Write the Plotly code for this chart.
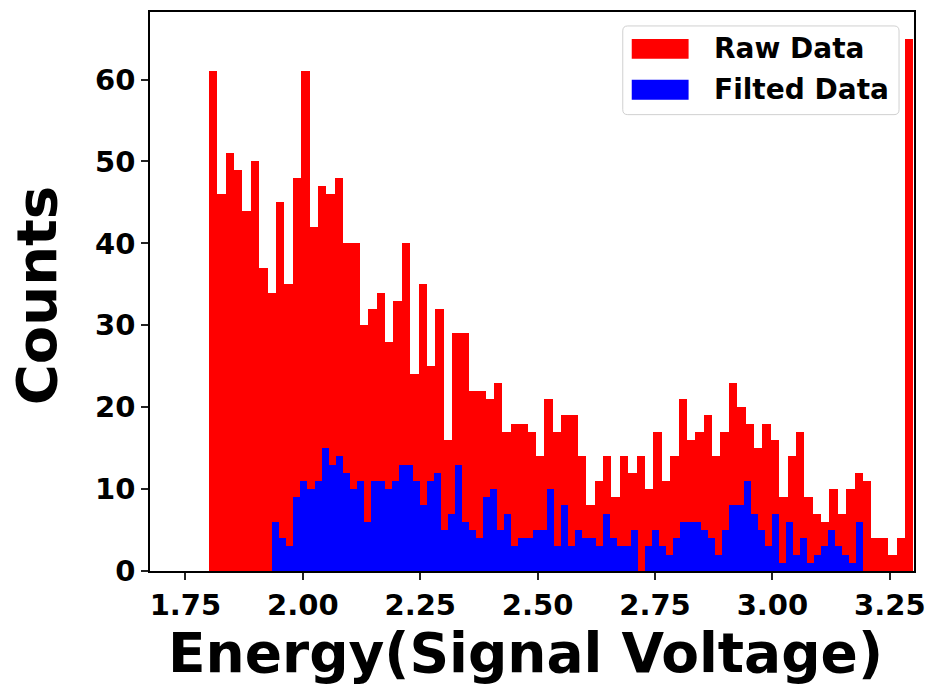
import numpy as np
import plotly.graph_objects as go

# ---- data ----
raw_range = [1.80, 3.30]
raw_counts = [61, 46, 51, 49, 44, 50, 37, 34, 45, 35,
              48, 61, 42, 47, 46, 48, 40, 40, 30, 32,
              34, 28, 33, 40, 24, 35, 25, 32, 16, 29,
              29, 22, 22, 21, 23, 17, 18, 18, 17, 14,
              21, 17, 19, 19, 14, 8, 11, 14, 9, 14,
              12, 14, 10, 17, 11, 14, 21, 16, 17, 19,
              14, 17, 23, 20, 18, 15, 18, 16, 9, 14,
              17, 9, 7, 6, 10, 7, 10, 12, 11, 4,
              4, 2, 4, 65]

filt_range = [1.935, 3.193]
filt_counts = [6, 4, 3, 9, 11, 10, 11, 15, 13, 14,
               12, 10, 11, 6, 11, 11, 10, 11, 13, 13,
               11, 8, 11, 12, 5, 7, 13, 6, 5, 4,
               9, 10, 5, 7, 3, 4, 4, 5, 5, 10,
               3, 8, 3, 5, 4, 4, 3, 7, 4, 3,
               3, 5, 0, 3, 5, 3, 2, 4, 6, 6,
               6, 5, 4, 2, 5, 8, 8, 11, 7, 5,
               3, 7, 1, 6, 2, 4, 1, 2, 3, 5,
               3, 2, 1, 6]

series_names = ["Raw Data", "Filted Data"]
series_colors = ["#ff0000", "#0000ff"]
x_ticks = [1.75, 2.00, 2.25, 2.50, 2.75, 3.00, 3.25]
y_ticks = [0, 10, 20, 30, 40, 50, 60]
x_title = "Energy(Signal Voltage)"
y_title = "Counts"


def bins(rng, counts):
    edges = np.linspace(rng[0], rng[1], len(counts) + 1)
    return (edges[:-1] + edges[1:]) / 2, np.diff(edges)


FONT = "DejaVu Sans"
fig = go.Figure()
for rng, cnt, name, col in [(raw_range, raw_counts, series_names[0], series_colors[0]),
                            (filt_range, filt_counts, series_names[1], series_colors[1])]:
    cx, w = bins(rng, cnt)
    fig.add_trace(go.Bar(x=cx, y=cnt, width=w, name=name,
                         marker=dict(color=col, line=dict(width=0)),
                         showlegend=False))

W, H = 936, 684
L, R, T, B = 150, 916, 10, 571
pw, ph = R - L, B - T

axis_common = dict(showline=True, linecolor="#000000", linewidth=1.5, mirror=True,
                   ticks="outside", ticklen=7, tickwidth=1.5, tickcolor="#222222",
                   showgrid=False, zeroline=False,
                   tickfont=dict(family=FONT, size=29, color="#000000", weight="bold"))

fig.update_layout(
    width=W, height=H,
    margin=dict(l=L, r=W - R, t=T, b=H - B, pad=0),
    plot_bgcolor="white", paper_bgcolor="white",
    barmode="overlay", bargap=0,
    xaxis=dict(range=[1.6745, 3.3015], tickvals=x_ticks,
               ticktext=[f"{v:.2f}" for v in x_ticks], **axis_common),
    yaxis=dict(range=[0, 68.25], tickvals=y_ticks, **axis_common),
    font=dict(family=FONT, color="#000000"),
)

# axis titles
fig.add_annotation(text=f"<b>{x_title}</b>", xref="paper", yref="paper",
                   x=(526 - L) / pw, y=-(653 - B) / ph, xanchor="center", yanchor="middle",
                   showarrow=False, font=dict(family=FONT, size=55, color="#000000"))
fig.add_annotation(text=f"<b>{y_title}</b>", xref="paper", yref="paper",
                   x=(37 - L) / pw, y=(B - 295) / ph, xanchor="center", yanchor="middle",
                   textangle=-90, showarrow=False,
                   font=dict(family=FONT, size=56, color="#000000"))

# legend drawn in pixel-based paper coordinates
def px(xp):
    return (xp - L) / pw


def py(yp):
    return (B - yp) / ph


bx0, by0, bx1, by1, r = 624, 24, 901, 113, 5
rx, ry = r / pw, r / ph
path = (f"M {px(bx0)+rx},{py(by0)} L {px(bx1)-rx},{py(by0)} "
        f"Q {px(bx1)},{py(by0)} {px(bx1)},{py(by0)-ry} "
        f"L {px(bx1)},{py(by1)+ry} Q {px(bx1)},{py(by1)} {px(bx1)-rx},{py(by1)} "
        f"L {px(bx0)+rx},{py(by1)} Q {px(bx0)},{py(by1)} {px(bx0)},{py(by1)+ry} "
        f"L {px(bx0)},{py(by0)-ry} Q {px(bx0)},{py(by0)} {px(bx0)+rx},{py(by0)} Z")
fig.add_shape(type="path", path=path, xref="paper", yref="paper",
              line=dict(color="#d0d0d0", width=1), fillcolor="rgba(255,255,255,0.85)")
for i, (name, col) in enumerate(zip(series_names, series_colors)):
    yc = 47 + i * 41
    fig.add_shape(type="rect", xref="paper", yref="paper",
                  x0=px(633), x1=px(690), y0=py(yc - 10), y1=py(yc + 10),
                  line=dict(width=0), fillcolor=col)
    fig.add_annotation(text=f"<b>{name}</b>", xref="paper", yref="paper",
                       x=px(713), y=py(yc), xanchor="left", yanchor="middle",
                       showarrow=False, font=dict(family=FONT, size=28, color="#000000"))

fig.write_html("out.html",
               config={"displayModeBar": False},
               post_script="document.body.style.margin='0px';"
                           "document.body.style.overflow='hidden';")
